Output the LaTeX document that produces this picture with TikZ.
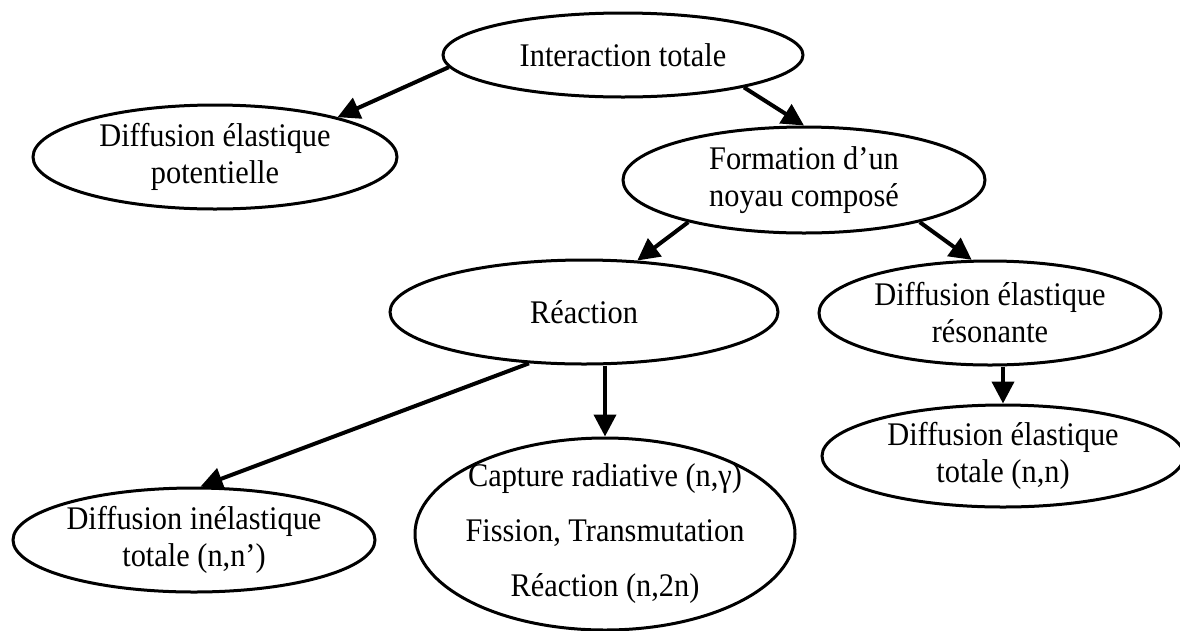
\documentclass[tikz,border=0pt]{standalone}
\usepackage{fontspec}
\setmainfont[FakeStretch=0.92]{Liberation Serif}
\usetikzlibrary{shapes.geometric,arrows.meta}

\tikzset{
  bulle/.style={ellipse, draw, line width=3pt, inner sep=-40pt, align=center,
    font=\fontsize{33}{37}\selectfont},
  fleche/.style={line width=4pt, -{Triangle[length=22pt,width=22pt]}}
}

\begin{document}
\begin{tikzpicture}[x=1pt,y=-1pt]
		%%%%% START %%%%%
		\useasboundingbox (0,0) rectangle (1180,630);
		
		\node[bulle, minimum width=360pt, minimum height=84pt] (inter) at (623,55) {Interaction totale};
		\node[bulle, minimum width=364pt, minimum height=104pt] (pot) at (215,157) {Diffusion élastique\\potentielle};
		\node[bulle, minimum width=362pt, minimum height=106pt] (form) at (804,180) {Formation d’un\\noyau composé};
		
		\node[bulle, minimum width=388pt, minimum height=104pt] (reac) at (584,312) {Réaction};
		\node[bulle, minimum width=342pt, minimum height=104pt] (reson) at (990,313) {Diffusion élastique\\résonante};
		
		\node[bulle, minimum width=362pt, minimum height=104pt] (inel) at (194,540) {Diffusion inélastique\\totale (n,n’)};
		\node[bulle, minimum width=380pt, minimum height=192pt, font=\fontsize{33}{55}\selectfont] (capt) at (605,534)
			{Capture radiative (n,γ)\\Fission, Transmutation\\Réaction (n,2n)};
		\node[bulle, minimum width=362pt, minimum height=102pt] (tot) at (1003,456) {Diffusion élastique\\totale (n,n)};
		
		\draw[fleche] (inter.184) -- (pot.18);
		\draw[fleche] (inter.345) -- (form.north);
		\draw[fleche] (form.200) -- (reac.44);
		\draw[fleche] (form.340) -- (reson.109);
		\draw[fleche] (reac.223) -- (inel.83);
		\draw[fleche] (reac.south -| capt.north) -- (capt.north);
		\draw[fleche] (reson.south -| tot.north) -- (tot.north);
		
		%%%%% END %%%%%
\end{tikzpicture}
\end{document}
